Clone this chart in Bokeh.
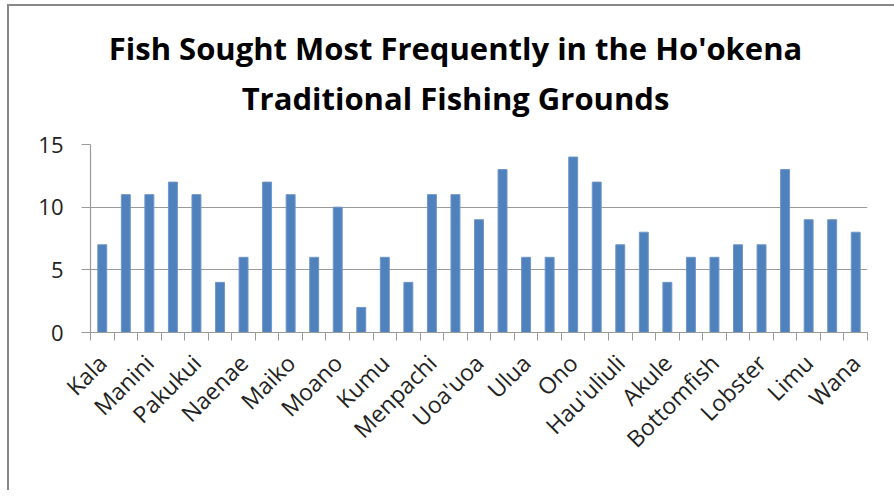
from bokeh.plotting import figure
from bokeh.models import Range1d, FixedTicker
from bokeh.layouts import column
from bokeh.core.properties import value
from bokeh.embed import file_html
from bokeh.resources import INLINE

title_lines = ["Fish Sought Most Frequently in the Ho'okena",
               "Traditional Fishing Grounds"]

# labels shown on the axis (every other category is labelled in the original)
shown_labels = ["Kala", "Manini", "Pakukui", "Naenae", "Maiko", "Moano", "Kumu",
                "Menpachi", "Uoa'uoa", "Ulua", "Ono", "Hau'uliuli", "Akule",
                "Bottomfish", "Lobster", "Limu", "Wana"]
values = [7, 11, 11, 12, 11, 4, 6, 12, 11, 6, 10, 2, 6, 4, 11, 11,
          9, 13, 6, 6, 14, 12, 7, 8, 4, 6, 6, 7, 7, 13, 9, 9, 8]
y_ticks = [0, 5, 10, 15]

n = len(values)
xs = list(range(1, n + 1))
label_pos = xs[::2]

GREY = "#9a9a9a"
FONT = "Open Sans"
W = 885
LEFT, RIGHT = 81, 27
TOP_H = 126
MAIN_H = 358

# --- title panel (its frame is aligned with the chart frame by the column) ---
t = figure(width=W, height=TOP_H, output_backend="svg", toolbar_location=None,
           x_range=Range1d(LEFT, W - RIGHT), y_range=Range1d(0, TOP_H),
           x_axis_type=None, y_axis_type=None,
           min_border=0, min_border_left=0, min_border_right=0,
           min_border_top=0, min_border_bottom=0)
t.outline_line_color = None
t.grid.grid_line_color = None
t.text(x=[446, 446], y=[TOP_H - 41, TOP_H - 91], text=title_lines,
       text_align="center", text_baseline="alphabetic",
       text_font=value(FONT), text_font_style="bold", text_font_size="31px",
       text_color="#000000")

# --- bar chart ---
p = figure(width=W, height=MAIN_H, output_backend="svg", toolbar_location=None,
           x_range=Range1d(0.5, n + 0.5), y_range=Range1d(0, 15),
           min_border_left=LEFT, min_border_right=RIGHT, min_border_top=12,
           min_border_bottom=158)
p.outline_line_color = None

p.vbar(x=xs, top=values, width=0.38, fill_color="#4F81BD", line_color="#7096c8",
       line_width=1)

p.xgrid.grid_line_color = None
p.ygrid.grid_line_color = GREY
p.ygrid.grid_line_width = 1.2
p.ygrid.ticker = FixedTicker(ticks=y_ticks)

p.yaxis.ticker = FixedTicker(ticks=y_ticks)
p.yaxis.axis_line_color = GREY
p.yaxis.axis_line_width = 1.2
p.yaxis.major_tick_line_color = GREY
p.yaxis.major_tick_out = 9
p.yaxis.major_tick_in = 0
p.yaxis.minor_tick_line_color = None
p.yaxis.major_label_standoff = 18
p.yaxis.major_label_text_font = FONT
p.yaxis.major_label_text_font_size = "22px"
p.yaxis.major_label_text_color = "#222222"

p.xaxis.ticker = FixedTicker(ticks=label_pos,
                             minor_ticks=[x - 0.5 for x in xs] + [n + 0.5])
p.xaxis.major_label_overrides = {x: lab for x, lab in zip(label_pos, shown_labels)}
p.xaxis.axis_line_color = GREY
p.xaxis.axis_line_width = 1.2
p.xaxis.major_tick_line_color = None
p.xaxis.major_tick_out = 0
p.xaxis.major_tick_in = 0
p.xaxis.minor_tick_line_color = GREY
p.xaxis.minor_tick_out = 8
p.xaxis.minor_tick_in = 0
p.xaxis.major_label_orientation = 0.785398
p.xaxis.major_label_standoff = 18
p.xaxis.major_label_text_font = FONT
p.xaxis.major_label_text_font_size = "23px"
p.xaxis.major_label_text_color = "#222222"

layout = column(t, p, spacing=0)
layout.styles = {"border-top": "2px solid #888888", "border-left": "2px solid #888888",
                 "margin-left": "7px", "margin-top": "4px"}

open("out.html", "w").write(file_html(layout, INLINE))
